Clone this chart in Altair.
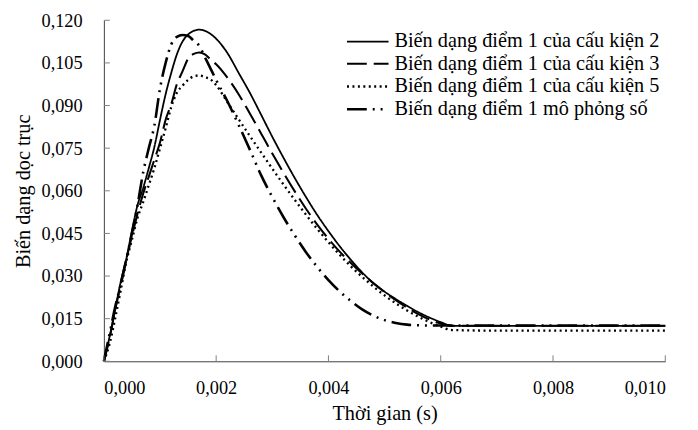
import altair as alt
import pandas as pd

# Time grid (s)
t = [0.0000, 0.0001, 0.0002, 0.0003, 0.0004, 0.0005, 0.0006, 0.0007, 0.0008, 0.0009,
     0.0010, 0.0011, 0.0012, 0.0013, 0.0014, 0.0015, 0.0016, 0.0017, 0.0018, 0.0019,
     0.0020, 0.0022, 0.0024, 0.0026, 0.0028, 0.0030, 0.0032, 0.0034, 0.0036, 0.0038,
     0.0040, 0.0042, 0.0044, 0.0046, 0.0048, 0.0050, 0.0052, 0.0054, 0.0056, 0.0058,
     0.0060, 0.0062, 0.0070, 0.0080, 0.0090, 0.0100]

# Cấu kiện 2 (solid)
s2 = [0, 0.0085, 0.018, 0.028, 0.036, 0.046, 0.055, 0.061, 0.068, 0.0755,
      0.085, 0.094, 0.1015, 0.108, 0.1125, 0.115, 0.1163, 0.1167, 0.1163, 0.1152,
      0.1135, 0.1085, 0.1015, 0.0945, 0.0868, 0.079, 0.0716, 0.0645, 0.0578, 0.0515,
      0.0458, 0.0405, 0.0357, 0.0313, 0.0275, 0.0245, 0.0219, 0.0195, 0.0173, 0.0154,
      0.0138, 0.0125, 0.0125, 0.0125, 0.0125, 0.0125]

# Cấu kiện 3 (dashed)
s3 = [0, 0.008, 0.018, 0.027, 0.036, 0.044, 0.052, 0.059, 0.065, 0.071,
      0.077, 0.085, 0.0905, 0.0975, 0.102, 0.1065, 0.1082, 0.1087, 0.108, 0.1062,
      0.1045, 0.0998, 0.094, 0.0872, 0.0802, 0.0731, 0.0663, 0.0598, 0.0537, 0.0481,
      0.0431, 0.0386, 0.0346, 0.0309, 0.0275, 0.0244, 0.0215, 0.0189, 0.0166, 0.0147,
      0.0133, 0.0125, 0.0125, 0.0125, 0.0125, 0.0125]

# Cấu kiện 5 (dotted)
s5 = [0, 0.006, 0.015, 0.025, 0.035, 0.0428, 0.0505, 0.056, 0.062, 0.068,
      0.075, 0.082, 0.0895, 0.0945, 0.097, 0.099, 0.1003, 0.1006, 0.1, 0.0992,
      0.0972, 0.0912, 0.0852, 0.0793, 0.0735, 0.0678, 0.0622, 0.0568, 0.0516, 0.0466,
      0.0419, 0.0375, 0.0334, 0.0297, 0.0263, 0.0232, 0.0204, 0.0179, 0.0157, 0.0138,
      0.0122, 0.011, 0.0108, 0.0108, 0.0108, 0.0108]

# Mô phỏng số (dash-dot)
sim = [0, 0.0095, 0.019, 0.027, 0.036, 0.045, 0.055, 0.0665, 0.075, 0.083,
       0.096, 0.105, 0.1115, 0.1142, 0.1148, 0.1145, 0.1128, 0.111, 0.107, 0.103,
       0.099, 0.0915, 0.0832, 0.0745, 0.0655, 0.0578, 0.0507, 0.0443, 0.0384, 0.0332,
       0.0286, 0.0246, 0.0212, 0.0183, 0.0161, 0.0145, 0.0135, 0.0129, 0.0127, 0.0126,
       0.0126, 0.0126, 0.0126, 0.0126, 0.0126, 0.0126]

names = ["Biến dạng điểm 1 của cấu kiện 2",
         "Biến dạng điểm 1 của cấu kiện 3",
         "Biến dạng điểm 1 của cấu kiện 5",
         "Biến dạng điểm 1 mô phỏng số"]

x_ticks = [0.000, 0.002, 0.004, 0.006, 0.008, 0.010]
y_ticks = [0.000, 0.015, 0.030, 0.045, 0.060, 0.075, 0.090, 0.105, 0.120]

rows = []
for name, ys in zip(names, [s2, s3, s5, sim]):
    for i, (xv, yv) in enumerate(zip(t, ys)):
        rows.append({"t": xv, "v": yv, "s": name, "i": i})
df = pd.DataFrame(rows)

W, H = 568, 345
FONT = "Liberation Serif"

xscale = alt.Scale(domain=[0, 0.01], nice=False, zero=False)
yscale = alt.Scale(domain=[0, 0.12], nice=False, zero=False)

lbl = "replace(format(datum.value, '.3f'), '.', ',')"

x_axis = alt.Axis(values=x_ticks, labelExpr=lbl, title="Thời gian (s)",
                  ticks=False, grid=False, labelPadding=18, titlePadding=6)
y_axis = alt.Axis(values=y_ticks, labelExpr=lbl, title="Biến dạng dọc trục",
                  ticks=False, grid=False, labelPadding=22, titlePadding=8)

lines = alt.Chart(df).mark_line(color="black", interpolate="monotone").encode(
    x=alt.X("t:Q", scale=xscale, axis=x_axis),
    y=alt.Y("v:Q", scale=yscale, axis=y_axis),
    strokeDash=alt.StrokeDash(
        "s:N",
        scale=alt.Scale(domain=names,
                        range=[[1, 0], [20, 7], [2, 3.5], [20, 6, 2, 6, 2, 6]]),
        legend=alt.Legend(title=None, orient="none", legendX=255, legendY=10,
                          symbolType="M-2,0H2", symbolSize=441,
                          symbolStrokeColor="black", symbolStrokeWidth=2.2,
                          labelFont=FONT, labelFontSize=20.5, labelColor="black",
                          labelLimit=0, labelOffset=15, rowPadding=0)),
    strokeWidth=alt.StrokeWidth(
        "s:N",
        scale=alt.Scale(domain=names, range=[1.8, 2.6, 2.0, 2.6]),
        legend=None),
    order="i:Q",
)

ytick_rules = alt.Chart(pd.DataFrame({"v": y_ticks})).mark_rule(
    color="#808080", strokeWidth=1).encode(
    y=alt.Y("v:Q", scale=yscale, axis=y_axis),
    x=alt.value(0), x2=alt.value(6))

xtick_rules = alt.Chart(pd.DataFrame({"t": x_ticks})).mark_rule(
    color="#808080", strokeWidth=1).encode(
    x=alt.X("t:Q", scale=xscale, axis=x_axis),
    y=alt.value(H), y2=alt.value(H - 6))

chart = alt.layer(lines, ytick_rules, xtick_rules).properties(
    width=W, height=H,
    background="white",
    autosize=alt.AutoSizeParams(type="none"),
    padding={"left": 97, "top": 10, "right": 25, "bottom": 62},
).configure_view(stroke=None).configure_axis(
    domainColor="#404040", domainWidth=1,
    labelFont=FONT, labelFontSize=18.5, labelColor="black",
    titleFont=FONT, titleFontSize=20.5, titleColor="black", titleFontWeight="normal",
)

chart.save("out.html", embed_options={"renderer": "svg", "actions": False})
